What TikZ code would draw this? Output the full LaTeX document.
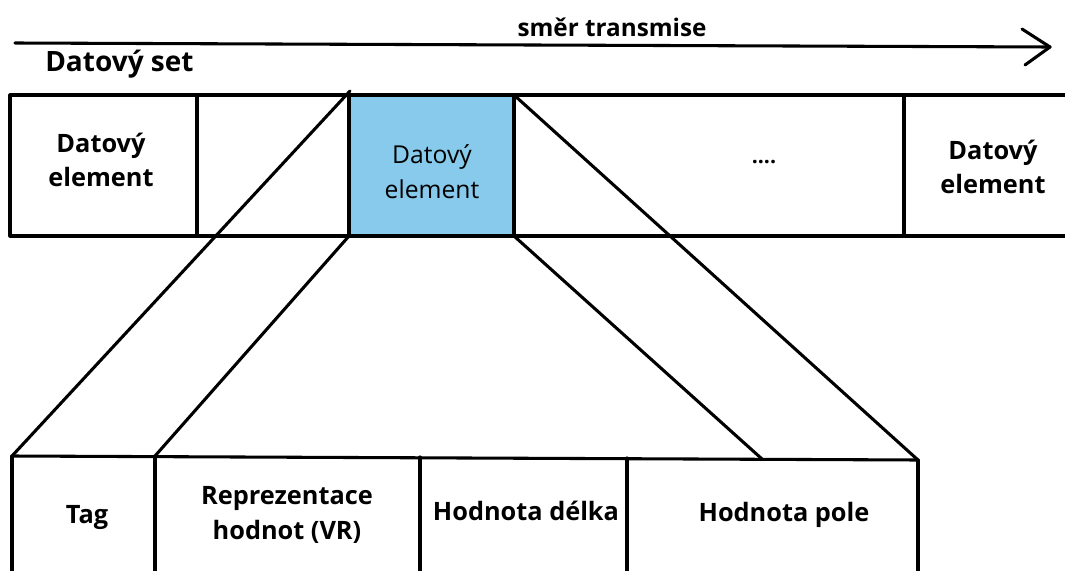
\documentclass[tikz,border=0pt]{standalone}
\usepackage{fontspec}
\setmainfont{Open Sans}
\begin{document}
\begin{tikzpicture}[x=0.75pt,y=-0.75pt,
  ln/.style={line width=2.3pt, line cap=round, line join=round},
  lbl/.style={align=center, inner sep=0pt, font=\bfseries\fontsize{19}{26}\selectfont},
  lblreg/.style={align=center, inner sep=0pt, font=\fontsize{18.5}{26}\selectfont},
  hdr/.style={inner sep=0pt, font=\bfseries\fontsize{18.2}{22}\selectfont}]
\useasboundingbox (0,0) rectangle (1065,571);

% transmission arrow
\coordinate (as) at (15,43);
\coordinate (ah) at (1050,47);
\coordinate (ahu) at (1022,29);
\coordinate (ahd) at (1025,65);
\draw[ln] (as) -- (ah);
\draw[ln] (ahu) -- (ah) -- (ahd);
\node[hdr] (smer) at (612,27) {směr transmise};
\node[hdr, font=\bfseries\fontsize{21}{24}\selectfont, anchor=west] (dset) at (45,64) {Datový set};

% top row (data set)
\fill[fill={rgb,255:red,135;green,202;blue,235}] (349,95) rectangle (514,236);
\draw[ln] (10,95) rectangle (1080,236);
\draw[ln] (197,95) -- (197,236);
\draw[ln] (349,95) -- (349,236);
\draw[ln] (514,95) -- (514,236);
\draw[ln] (904,95) -- (904,236);
\node[lbl] (de1) at (101,160) {Datový\\element};
\node[lblreg] (de2) at (432,172) {Datový\\element};
\node[lbl, font=\bfseries\fontsize{16}{20}\selectfont] (dots) at (764,162) {....};
\node[lbl] (de3) at (993,167) {Datový\\element};

% corners of highlighted element
\coordinate (bTL) at (350,91);
\coordinate (bBL) at (349,236);
\coordinate (bTR) at (514,95);
\coordinate (bBR) at (514,236);

% bottom row (data element)
\coordinate (L0) at (12,456);
\coordinate (L1) at (155,456);
\coordinate (R3) at (762,459);
\coordinate (R4) at (918,460);
\draw[ln] (L0) -- (R4);
\draw[ln] (L0) -- (12,590);
\draw[ln] (L1) -- (155,590);
\draw[ln] (420,457) -- (420,590);
\draw[ln] (627,458) -- (627,590);
\draw[ln] (R4) -- (918,590);
\node[lbl] (tag) at (87,517) {Tag};
\node[lbl] (vr) at (287,515) {Reprezentace\\hodnot (VR)};
\node[lbl] (len) at (526,511) {Hodnota délka};
\node[lbl] (val) at (784,515) {Hodnota pole};

% expansion lines
\draw[ln] (bTL) -- (L0);
\draw[ln] (bBL) -- (L1);
\draw[ln] (bTR) -- (R4);
\draw[ln] (bBR) -- (R3);
\end{tikzpicture}
\end{document}
